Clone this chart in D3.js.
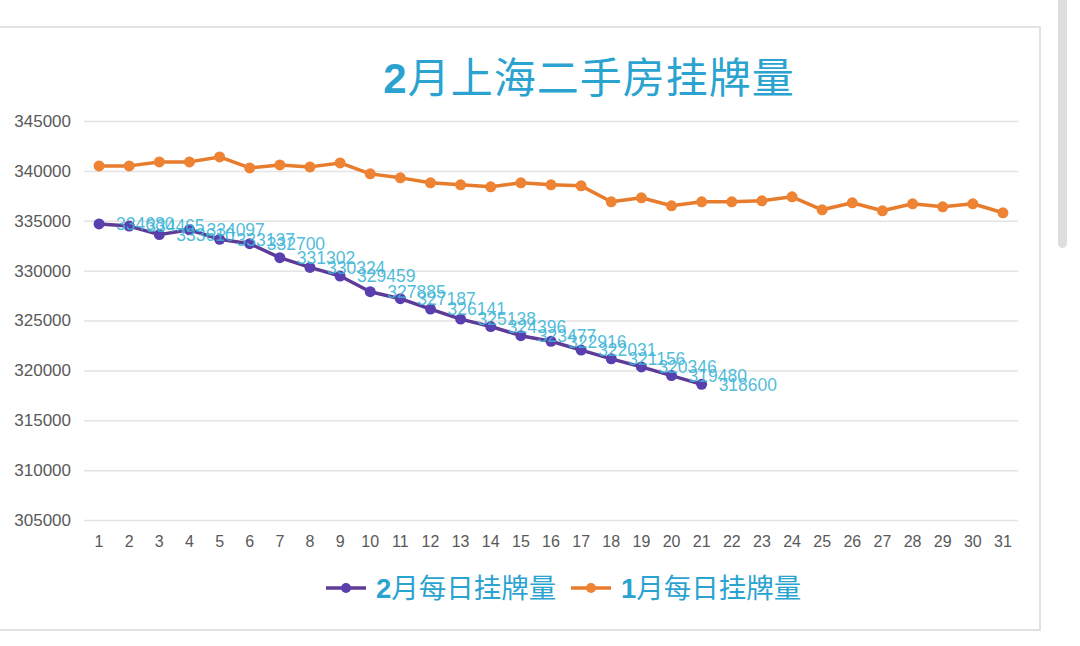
<!DOCTYPE html>
<html>
<head>
<meta charset="utf-8">
<script src="https://cdn.jsdelivr.net/npm/d3@7"></script>
<style>
  html, body { margin: 0; padding: 0; background: #fff; }
  svg { display: block; }
</style>
</head>
<body>
<div id="chart"></div>
<script>
const width = 1080;
const height = 646;

// data
const days = d3.range(1, 32);
const febValues = [334680, 334465, 333610, 334097, 333137, 332700, 331302, 330324, 329459, 327885,
  327187, 326141, 325138, 324396, 323477, 322916, 322031, 321156, 320346, 319480, 318600];
const janValues = [340500, 340500, 340900, 340900, 341400, 340300, 340600, 340400, 340800, 339700,
  339300, 338800, 338600, 338400, 338800, 338600, 338500, 336900, 337300, 336500,
  336900, 336900, 337000, 337400, 336100, 336800, 336000, 336700, 336400, 336700, 335800];
const yTicks = [305000, 310000, 315000, 320000, 325000, 330000, 335000, 340000, 345000];

const febColor = "#5f3b98";
const febMarker = "#5a3fae";
const janColor = "#e77c2c";
const labelColor = "#3ab4d6";
const titleColor = "#2aa3d0";

const svg = d3.select("#chart")
  .append("svg")
  .attr("width", width)
  .attr("height", height);

// card
svg.append("rect")
  .attr("x", -10).attr("y", 27)
  .attr("width", 1050).attr("height", 603)
  .attr("fill", "#fff")
  .attr("stroke", "#e2e2e2")
  .attr("stroke-width", 2);

// scrollbar
svg.append("rect")
  .attr("x", 1058).attr("y", -10)
  .attr("width", 9).attr("height", 258)
  .attr("rx", 4.5)
  .attr("fill", "#dedede");

const x = d3.scaleBand().domain(days).range([84, 1018]);
const y = d3.scaleLinear().domain([305000, 345000]).range([520, 121]);
const cx = d => x(d) + x.bandwidth() / 2;

// title
const title = svg.append("text")
  .attr("x", 589).attr("y", 93)
  .attr("text-anchor", "middle")
  .attr("fill", titleColor)
  .style("font-family", "'Noto Sans CJK SC', sans-serif")
  .style("font-size", "42px")
  .style("letter-spacing", "1px");
title.append("tspan").attr("font-weight", "bold").style("font-family", "'Liberation Sans', Arial, sans-serif").text("2");
title.append("tspan").text("月上海二手房挂牌量");

// y axis + grid
const yAxis = svg.append("g")
  .attr("transform", "translate(84,0)")
  .call(d3.axisLeft(y).tickValues(yTicks).tickSize(-934).tickPadding(13).tickFormat(d3.format("d")));
yAxis.select(".domain").remove();
yAxis.selectAll("line").attr("stroke", "#e3e3e3").attr("stroke-width", 1.5);
yAxis.selectAll("text")
  .attr("fill", "#595959")
  .style("font-family", "'Liberation Sans', Arial, sans-serif")
  .style("font-size", "17px");

// x axis
const xAxis = svg.append("g")
  .attr("transform", "translate(0,520)")
  .call(d3.axisBottom(x).tickSize(0).tickPadding(16));
xAxis.select(".domain").remove();
xAxis.selectAll("text")
  .attr("fill", "#595959")
  .style("font-family", "'Liberation Sans', Arial, sans-serif")
  .style("font-size", "16px");

const line = d3.line()
  .x((d, i) => cx(days[i]))
  .y(d => y(d));

// Jan series
svg.append("path")
  .datum(janValues)
  .attr("fill", "none")
  .attr("stroke", janColor)
  .attr("stroke-width", 3.5)
  .attr("stroke-linejoin", "round")
  .attr("d", line);
svg.selectAll(".jan-dot")
  .data(janValues)
  .enter()
  .append("circle")
  .attr("class", "jan-dot")
  .attr("cx", (d, i) => cx(days[i]))
  .attr("cy", d => y(d))
  .attr("r", 5.5)
  .attr("fill", "#ee8334");

// Feb series
svg.append("path")
  .datum(febValues)
  .attr("fill", "none")
  .attr("stroke", febColor)
  .attr("stroke-width", 3.5)
  .attr("stroke-linejoin", "round")
  .attr("d", line);
svg.selectAll(".feb-dot")
  .data(febValues)
  .enter()
  .append("circle")
  .attr("class", "feb-dot")
  .attr("cx", (d, i) => cx(days[i]))
  .attr("cy", d => y(d))
  .attr("r", 5.5)
  .attr("fill", febMarker);

// data labels
svg.selectAll(".feb-label")
  .data(febValues)
  .enter()
  .append("text")
  .attr("class", "feb-label")
  .attr("x", (d, i) => cx(days[i]) + 17)
  .attr("y", d => y(d))
  .attr("dy", "0.36em")
  .attr("fill", labelColor)
  .attr("fill-opacity", 0.9)
  .style("font-family", "'Liberation Sans', Arial, sans-serif")
  .style("font-size", "17.5px")
  .text(d => d);

// legend
const legendItems = [
  { num: "2", rest: "月每日挂牌量", color: febColor, marker: febMarker, x: 326 },
  { num: "1", rest: "月每日挂牌量", color: janColor, marker: "#ee8334", x: 571 }
];
const legend = svg.selectAll(".legend")
  .data(legendItems)
  .enter()
  .append("g")
  .attr("class", "legend")
  .attr("transform", d => `translate(${d.x},588)`);
legend.append("line")
  .attr("x1", 0).attr("x2", 40)
  .attr("stroke", d => d.color)
  .attr("stroke-width", 3.5);
legend.append("circle")
  .attr("cx", 20).attr("r", 5)
  .attr("fill", d => d.marker);
const lt = legend.append("text")
  .attr("x", 50).attr("y", 10)
  .attr("fill", titleColor)
  .style("font-family", "'Noto Sans CJK SC', sans-serif")
  .style("font-size", "27.5px");
lt.append("tspan").attr("font-weight", "bold").style("font-family", "'Liberation Sans', Arial, sans-serif").text(d => d.num);
lt.append("tspan").text(d => d.rest);
</script>
</body>
</html>
